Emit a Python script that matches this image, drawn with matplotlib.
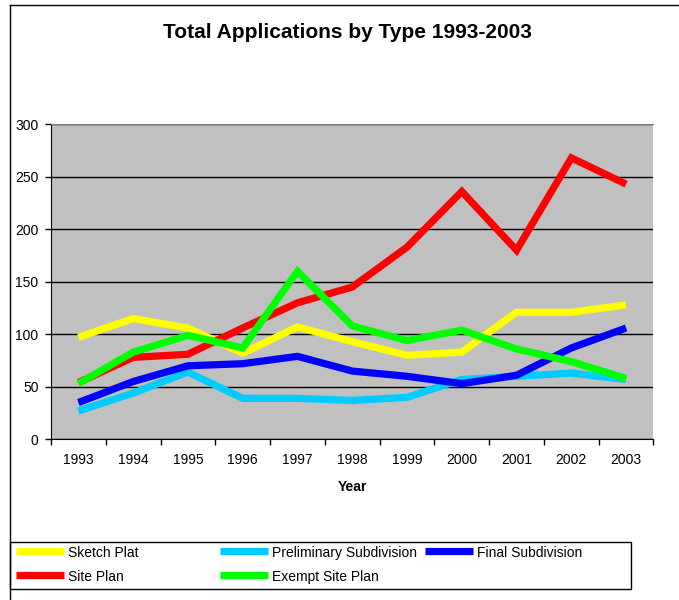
import matplotlib
matplotlib.use("Agg")
import matplotlib.pyplot as plt
from matplotlib.lines import Line2D
from matplotlib.patches import Rectangle

plt.rcParams['font.family'] = ['Liberation Sans', 'DejaVu Sans']

years = ["1993", "1994", "1995", "1996", "1997", "1998",
         "1999", "2000", "2001", "2002", "2003"]

sketch_plat = [97, 115, 106, 82, 107, 93, 80, 83, 121, 121, 128]
preliminary_sub = [27, 44, 64, 39, 39, 37, 40, 57, 60, 63, 57]
final_sub = [35, 55, 70, 72, 79, 65, 60, 53, 61, 87, 106]
site_plan = [54, 78, 81, 106, 130, 145, 183, 236, 180, 268, 243]
exempt_site_plan = [53, 83, 99, 87, 160, 108, 94, 104, 86, 74, 58]

series = [
    ("Sketch Plat", sketch_plat, "#FFFF00"),
    ("Preliminary Subdivision", preliminary_sub, "#00CCFF"),
    ("Final Subdivision", final_sub, "#0000FF"),
    ("Site Plan", site_plan, "#FF0000"),
    ("Exempt Site Plan", exempt_site_plan, "#00FF00"),
]

W, H = 679, 600
fig = plt.figure(figsize=(W / 100, H / 100), dpi=100)
ax = fig.add_axes([51 / W, 1 - 439.3 / H, 602.5 / W, 315 / H])
ax.set_facecolor("#C0C0C0")

x = list(range(len(years)))
for name, vals, col in series:
    ax.plot(x, vals, color=col, lw=5.2, solid_capstyle="butt",
            solid_joinstyle="miter", label=name)

ax.set_ylim(0, 300)
ax.set_yticks(range(0, 301, 50))
ax.yaxis.grid(True, color="black", lw=1)
ax.set_axisbelow(True)
ax.tick_params(axis="y", length=4, width=1, labelsize=10, pad=5)

# category boundaries carry the tick marks, labels sit at centres
ax.set_xlim(-0.5, len(years) - 0.5)
ax.set_xticks([i - 0.5 for i in range(len(years) + 1)])
ax.set_xticklabels([])
ax.set_xticks(x, minor=True)
ax.set_xticklabels(years, minor=True)
ax.tick_params(axis="x", which="major", length=4, width=1, direction="out")
ax.tick_params(axis="x", which="minor", length=0, labelsize=10, pad=10)
ax.set_xlabel("Year", fontsize=10, fontweight="bold", labelpad=9)

ax.spines["right"].set_visible(False)
ax.spines["top"].set_color("#808080")
ax.spines["left"].set_color("black")
ax.spines["bottom"].set_color("black")

fig.text(347 / W, 1 - 32 / H, "Total Applications by Type 1993-2003",
         ha="center", va="center", fontsize=15, fontweight="bold")

# outer chart frame
fig.add_artist(Line2D([10 / W, 10 / W], [0, 1 - 5 / H],
                      transform=fig.transFigure, color="black", lw=1))
fig.add_artist(Line2D([10 / W, 1], [1 - 5 / H, 1 - 5 / H],
                      transform=fig.transFigure, color="black", lw=1))

# legend laid out on a fixed column grid, three entries per row
fig.add_artist(Rectangle((10 / W, 1 - 589 / H), 621 / W, 47.3 / H,
                         transform=fig.transFigure, fill=False,
                         edgecolor="black", lw=1))
col_x = [16, 220, 425]
row_y = [551, 575]
for i, (name, vals, col) in enumerate(series):
    cx = col_x[i % 3]
    ry = row_y[i // 3]
    fig.add_artist(Line2D([cx / W, (cx + 48) / W], [1 - ry / H, 1 - ry / H],
                          transform=fig.transFigure, color=col, lw=5.2,
                          solid_capstyle="butt"))
    fig.text((cx + 52) / W, 1 - (ry + 2) / H, name, ha="left", va="center",
             fontsize=10)

fig.savefig("out.png", dpi=100)
